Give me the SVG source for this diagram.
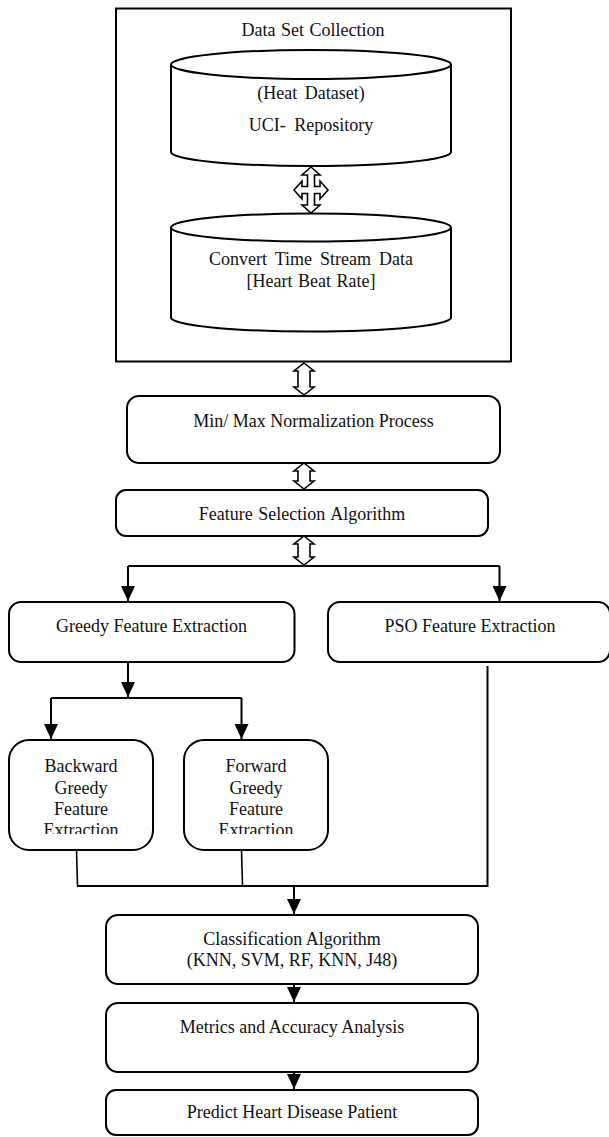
<svg xmlns="http://www.w3.org/2000/svg" width="609" height="1137" viewBox="0 0 609 1137">
<style>
.box{fill:#fff;stroke:#000;stroke-width:2}
.t{font-family:"Liberation Serif","Times New Roman",serif;font-size:18px;fill:#111;text-anchor:middle}
.c{fill:none;stroke:#000;stroke-width:2}
.m{fill:none;stroke:#000;stroke-width:1.6}
.dbl{fill:#fff;stroke:#000;stroke-width:1.6;stroke-linejoin:miter}
</style>
<defs>
<marker id="ah" markerUnits="userSpaceOnUse" markerWidth="15" markerHeight="14" viewBox="0 0 15 14" refX="15" refY="7" orient="auto">
<path d="M0,0 L15,7 L0,14 z" fill="#000"/>
</marker>
<clipPath id="clipB"><rect x="0" y="740" width="340" height="94"/></clipPath>
</defs>
<rect width="609" height="1137" fill="#fff"/>

<g id="dataset">
<rect class="box" x="116" y="8.5" width="395" height="353"/>
<text class="t" x="313" y="36" word-spacing="1">Data Set Collection</text>
</g>

<g id="uci">
<path class="box" d="M171,64.5 V152 A140,14 0 0 0 451,152 V64.5"/>
<ellipse class="box" cx="311" cy="64.5" rx="140" ry="14.5"/>
<text class="t" x="311" y="99" word-spacing="3">(Heat Dataset)</text>
<text class="t" x="311" y="131" word-spacing="4">UCI- Repository</text>
</g>

<g id="convert">
<path class="box" d="M171,227.5 V317.5 A140,14 0 0 0 451,317.5 V227.5"/>
<ellipse class="box" cx="311" cy="227.5" rx="140" ry="14"/>
<text class="t" x="311" y="265" word-spacing="3.5">Convert Time Stream Data</text>
<text class="t" x="311" y="287" word-spacing="1">[Heart Beat Rate]</text>
</g>

<g id="minmax">
<rect class="box" x="127" y="396" width="373" height="67" rx="12"/>
<text class="t" x="313.5" y="427">Min/ Max Normalization Process</text>
</g>

<g id="featsel">
<rect class="box" x="116" y="490" width="372" height="46" rx="10"/>
<text class="t" x="302" y="520" word-spacing="1">Feature Selection<tspan dx="5">Algorithm</tspan></text>
</g>

<g id="greedy">
<rect class="box" x="9" y="602" width="285.5" height="60" rx="12"/>
<text class="t" x="151.5" y="632">Greedy Feature Extraction</text>
</g>

<g id="pso">
<rect class="box" x="328" y="602" width="282" height="60" rx="12"/>
<text class="t" x="470" y="632">PSO Feature Extraction</text>
</g>

<g id="backward">
<rect class="box" x="9" y="740" width="144" height="110" rx="20"/>
<g clip-path="url(#clipB)">
<text class="t" x="81" y="772">Backward</text>
<text class="t" x="81" y="794">Greedy</text>
<text class="t" x="81" y="815">Feature</text>
<text class="t" x="81" y="835.5">Extraction</text>
</g>
</g>

<g id="forward">
<rect class="box" x="184" y="740" width="144" height="110" rx="20"/>
<g clip-path="url(#clipB)">
<text class="t" x="256" y="772">Forward</text>
<text class="t" x="256" y="794">Greedy</text>
<text class="t" x="256" y="815">Feature</text>
<text class="t" x="256" y="835.5">Extraction</text>
</g>
</g>

<g id="classification">
<rect class="box" x="106" y="915" width="372" height="69" rx="12"/>
<text class="t" x="292" y="945">Classification Algorithm</text>
<text class="t" x="292" y="966">(KNN, SVM, RF, KNN, J48)</text>
</g>

<g id="metrics">
<rect class="box" x="106" y="1003" width="372" height="69" rx="12"/>
<text class="t" x="292" y="1033">Metrics and Accuracy Analysis</text>
</g>

<g id="predict">
<rect class="box" x="106" y="1090" width="372" height="45" rx="10"/>
<text class="t" x="292" y="1118">Predict Heart Disease Patient</text>
</g>

<g id="connectors">
<polygon class="dbl" points="311,167 320,175 314.5,175 314.5,186.5 320,186.5 320,181 328,190 320,199 320,193.5 314.5,193.5 314.5,205 320,205 311,213 302,205 307.5,205 307.5,193.5 302,193.5 302,199 294,190 302,181 302,186.5 307.5,186.5 307.5,175 302,175"/>
<polygon class="dbl" points="304,363 314,371 310,371 310,387 314,387 304,395 294,387 298,387 298,371 294,371"/>
<polygon class="dbl" points="304,463 314,471 310,471 310,481 314,481 304,489 294,481 298,481 298,471 294,471"/>
<polygon class="dbl" points="304,536 314,544 310,544 310,557 314,557 304,565 294,557 298,557 298,544 294,544"/>
<path class="c" d="M128,566 H499.5"/>
<path class="c" d="M128,566 V601" marker-end="url(#ah)"/>
<path class="c" d="M499.5,566 V601" marker-end="url(#ah)"/>
<path class="c" d="M128,663 V697" marker-end="url(#ah)"/>
<path class="c" d="M51,698 H241.5"/>
<path class="c" d="M51,698 V739" marker-end="url(#ah)"/>
<path class="c" d="M241.5,698 V739" marker-end="url(#ah)"/>
<path class="m" d="M76.5,850 L77.5,886"/>
<path class="m" d="M241.5,850 L242.5,886"/>
<path class="c" d="M77,886 H487.5 V666"/>
<path class="c" d="M294,886 V914" marker-end="url(#ah)"/>
<path class="c" d="M294,984 V1002" marker-end="url(#ah)"/>
<path class="c" d="M294,1072 V1089" marker-end="url(#ah)"/>
</g>
</svg>
